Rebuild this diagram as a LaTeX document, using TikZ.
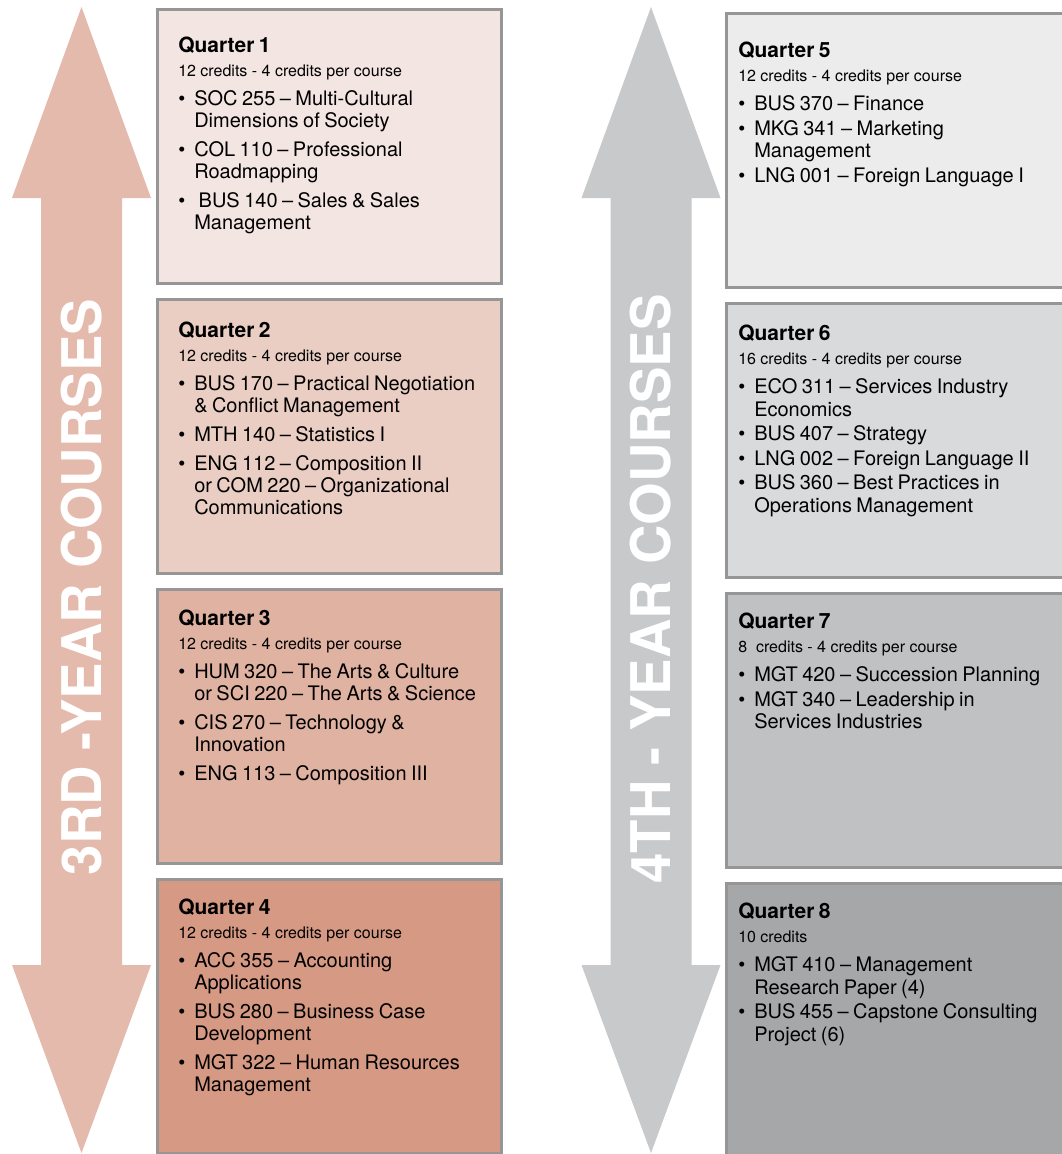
\documentclass[tikz,border=0pt]{standalone}
\usepackage{fontspec}
\setmainfont{TeX Gyre Heros}
\usetikzlibrary{positioning}
\definecolor{qone}{RGB}{243,229,225}
\definecolor{qtwo}{RGB}{234,206,196}
\definecolor{qthree}{RGB}{224,178,162}
\definecolor{qfour}{RGB}{214,153,132}
\definecolor{qfive}{RGB}{236,236,236}
\definecolor{qsix}{RGB}{217,218,220}
\definecolor{qseven}{RGB}{192,193,195}
\definecolor{qeight}{RGB}{166,167,169}
\definecolor{warmarrow}{RGB}{228,186,172}
\definecolor{greyarrow}{RGB}{200,201,203}
\definecolor{edge}{RGB}{150,150,150}
\setlength\parindent{0pt}
\newlength\crsgap
\newlength\headgap
\newcommand\qhead[2]{%
  {\fontsize{15.75}{18}\selectfont\bfseries #1\par}
  {\fontsize{12}{18}\selectfont #2\par}
  \fontsize{15}{\bodyskip}\selectfont\vspace{\headgap}}
\newcommand\brk{\hfil\break}
\newcommand\crs[1]{\par\vspace{\crsgap}\noindent\hangindent=12pt\hangafter=1
  \makebox[12pt][l]{\textbullet}#1\par}
\newcommand\yeararrow[1]{% centre x
  (#1,7) -- +(69.5,191) -- +(40.5,191) -- +(40.5,958) -- +(69.5,958)
  -- +(0,1146) -- +(-69.5,958) -- +(-40.5,958) -- +(-40.5,191)
  -- +(-69.5,191) -- cycle
}
\tikzset{
  box/.style={draw=edge, line width=2pt, anchor=north west, inner sep=0pt,
    minimum width=258.25pt, minimum height=205.75pt},
  qtext/.style={text width=250pt, align=left, inner sep=0pt, anchor=north west},
  third/.style={qtext, execute at begin node={\setlength\crsgap{5.25pt}%
    \setlength\headgap{0pt}\def\bodyskip{16.5}}},
  fourth/.style={qtext, execute at begin node={\setlength\crsgap{1.4pt}%
    \setlength\headgap{3.35pt}\def\bodyskip{17}}},
  yeartext/.style={rotate=90, text=white, inner sep=0pt,
    font=\fontsize{41}{41}\selectfont\bfseries}
}
\begin{document}
\begin{tikzpicture}[x=0.75pt,y=-0.75pt]
  \useasboundingbox (0,0) rectangle (1062,1154);

  \fill[warmarrow] \yeararrow{81.5};
  \fill[greyarrow] \yeararrow{651};
  \node[yeartext] (y3) at (81.5,587) {3RD -YEAR COURSES};
  \node[yeartext] (y4) at (651,589) {4TH - YEAR COURSES};

  \node[box, fill=qone] (q1) at (156,8) {};
  \node[box, fill=qtwo, below=9.75pt of q1] (q2) {};
  \node[box, fill=qthree, below=9.75pt of q2] (q3) {};
  \node[box, fill=qfour, below=9.75pt of q3] (q4) {};

  \node[box, fill=qfive] (q5) at (725,12) {};
  \node[box, fill=qsix, below=9.75pt of q5] (q6) {};
  \node[box, fill=qseven, below=9.75pt of q6] (q7) {};
  \node[box, fill=qeight, below=9.75pt of q7] (q8) {};

  \node[third, below right=21.5pt and 16.5pt of q1.north west] (t1) {%
    \qhead{Quarter 1}{12 credits - 4 credits per course}
    \crs{SOC 255 – Multi-Cultural\brk Dimensions of Society}
    \crs{COL 110 – Professional\brk Roadmapping}
    \crs{\ BUS 140 – Sales \& Sales\brk Management}};
  \node[third, below right=17.75pt and 16.5pt of q2.north west] (t2) {%
    \qhead{Quarter 2}{12 credits - 4 credits per course}
    \crs{BUS 170 – Practical Negotiation\brk \& Conflict Management}
    \crs{MTH 140 – Statistics I}
    \crs{ENG 112 – Composition II\brk or COM 220 – Organizational\brk Communications}};
  \node[third, below right=16.25pt and 16.5pt of q3.north west] (t3) {%
    \qhead{Quarter 3}{12 credits - 4 credits per course}
    \crs{HUM 320 – The Arts \& Culture\brk or SCI 220 – The Arts \& Science}
    \crs{CIS 270 – Technology \&\brk Innovation}
    \crs{ENG 113 – Composition III}};
  \node[third, below right=15.5pt and 16.5pt of q4.north west] (t4) {%
    \qhead{Quarter 4}{12 credits - 4 credits per course}
    \crs{ACC 355 – Accounting\brk Applications}
    \crs{BUS 280 – Business Case\brk Development}
    \crs{MGT 322 – Human Resources\brk Management}};

  \node[fourth, below right=22.25pt and 9.75pt of q5.north west] (t5) {%
    \qhead{Quarter 5}{12 credits - 4 credits per course}
    \crs{BUS 370 – Finance}
    \crs{MKG 341 – Marketing\brk Management}
    \crs{LNG 001 – Foreign Language I}};
  \node[fourth, below right=17pt and 9.75pt of q6.north west] (t6) {%
    \qhead{Quarter 6}{16 credits - 4 credits per course}
    \crs{ECO 311 – Services Industry\brk Economics}
    \crs{BUS 407 – Strategy}
    \crs{LNG 002 – Foreign Language II}
    \crs{BUS 360 – Best Practices in\brk Operations Management}};
  \node[fourth, below right=15.5pt and 9.75pt of q7.north west] (t7) {%
    \qhead{Quarter 7}{8\ \ credits - 4 credits per course}
    \crs{MGT 420 – Succession Planning}
    \crs{MGT 340 – Leadership in\brk Services Industries}};
  \node[fourth, below right=15.5pt and 9.75pt of q8.north west] (t8) {%
    \qhead{Quarter 8}{10 credits}
    \crs{MGT 410 – Management\brk Research Paper (4)}
    \crs{BUS 455 – Capstone Consulting\brk Project (6)}};
\end{tikzpicture}
\end{document}
